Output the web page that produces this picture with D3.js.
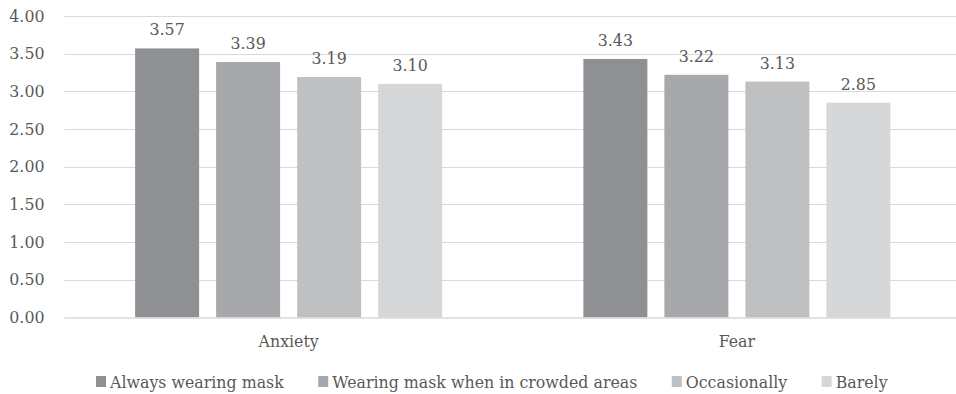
<!DOCTYPE html>
<html>
<head>
<meta charset="utf-8">
<script src="https://cdn.jsdelivr.net/npm/d3@7"></script>
<style>
  html, body { margin: 0; padding: 0; background: #fff; }
  svg { display: block; }
</style>
</head>
<body>
<svg id="chart" width="956" height="394"></svg>
<script>
// Emotion scores by mask-wearing habit
const categories = ["Anxiety", "Fear"];
const seriesNames = ["Always wearing mask", "Wearing mask when in crowded areas", "Occasionally", "Barely"];
const alwaysValues = [3.57, 3.43];
const crowdedValues = [3.39, 3.22];
const occasionallyValues = [3.19, 3.13];
const barelyValues = [3.10, 2.85];
const yTicks = [0, 0.5, 1, 1.5, 2, 2.5, 3, 3.5, 4];
const colors = ["#8f9094", "#a7a8ab", "#bfc0c2", "#d6d7d9"];

const seriesValues = [alwaysValues, crowdedValues, occasionallyValues, barelyValues];

const FONT = "'DejaVu Serif', 'Liberation Serif', serif";
const FONT_SIZE = 15.8;
const TEXT_COLOR = "#595959";

const svg = d3.select("#chart")
  .style("font-family", FONT);
const margin = { left: 64.5, right: -5, top: 16, bottom: 76.5 };
const W = 956, H = 394;

const x0 = d3.scaleBand()
  .domain(categories)
  .range([margin.left, W - margin.right])
  .padding(0);

const groupWidth = 307;
const x1 = d3.scaleBand()
  .domain(seriesNames)
  .range([0, groupWidth])
  .paddingInner(0.21)
  .paddingOuter(0);

const y = d3.scaleLinear()
  .domain([0, 4])
  .range([H - margin.bottom, margin.top]);

// horizontal gridlines
svg.append("g")
  .selectAll("line")
  .data(yTicks.filter(d => d > 0))
  .join("line")
  .attr("x1", margin.left)
  .attr("x2", W - margin.right)
  .attr("y1", d => Math.round(y(d)) + 0.5)
  .attr("y2", d => Math.round(y(d)) + 0.5)
  .attr("stroke", "#d9d9d9")
  .attr("stroke-width", 1);

// y-axis tick labels
const yAxis = d3.axisLeft(y)
  .tickValues(yTicks)
  .tickFormat(d3.format(".2f"))
  .tickSize(0)
  .tickPadding(0);
const yG = svg.append("g")
  .attr("transform", `translate(${margin.left - 20},0)`)
  .call(yAxis);
yG.select(".domain").remove();
yG.attr("font-family", FONT).attr("font-size", FONT_SIZE);
yG.selectAll("text")
  .attr("fill", TEXT_COLOR);

// bars
const groups = svg.append("g")
  .selectAll("g")
  .data(categories)
  .join("g")
  .attr("transform", d => `translate(${x0(d) + (x0.bandwidth() - groupWidth) / 2},0)`);

const cells = (c, ci) => seriesNames.map((s, si) => ({ s, si, v: seriesValues[si][ci] }));

groups.selectAll("rect")
  .data(cells)
  .join("rect")
  .attr("x", d => x1(d.s))
  .attr("width", x1.bandwidth())
  .attr("y", d => y(d.v))
  .attr("height", d => y(0) - y(d.v))
  .attr("fill", d => colors[d.si]);

groups.selectAll("text.val")
  .data(cells)
  .join("text")
  .attr("class", "val")
  .attr("x", d => x1(d.s) + x1.bandwidth() / 2)
  .attr("y", d => y(d.v) - 13)
  .attr("text-anchor", "middle")
  .attr("font-family", FONT)
  .attr("font-size", FONT_SIZE)
  .attr("fill", TEXT_COLOR)
  .text(d => d.v.toFixed(2));

// baseline
svg.append("line")
  .attr("x1", margin.left)
  .attr("x2", W - margin.right)
  .attr("y1", y(0) + 0.5)
  .attr("y2", y(0) + 0.5)
  .attr("stroke", "#d9d9d9")
  .attr("stroke-width", 1.5);

// category labels
const xAxis = d3.axisBottom(x0).tickSize(0).tickPadding(0);
const xG = svg.append("g")
  .attr("transform", `translate(0,${y(0) + 29})`)
  .call(xAxis);
xG.select(".domain").remove();
xG.attr("font-family", FONT).attr("font-size", FONT_SIZE);
xG.selectAll("text")
  .attr("y", 0)
  .attr("dy", 0)
  .attr("fill", TEXT_COLOR);

// legend
const legend = svg.append("g").attr("transform", "translate(0,376)");
let lx = 96;
const gapAfter = 34.5;
seriesNames.forEach((name, i) => {
  const item = legend.append("g").attr("transform", `translate(${lx},0)`);
  item.append("rect")
    .attr("x", 0).attr("y", 0)
    .attr("width", 10).attr("height", 11)
    .attr("fill", colors[i]);
  const t = item.append("text")
    .attr("x", 14)
    .attr("y", 11.5)
    .attr("font-family", FONT)
    .attr("font-size", FONT_SIZE)
    .attr("fill", TEXT_COLOR)
    .text(name);
  lx += 14 + t.node().getComputedTextLength() + gapAfter;
});
</script>
</body>
</html>
